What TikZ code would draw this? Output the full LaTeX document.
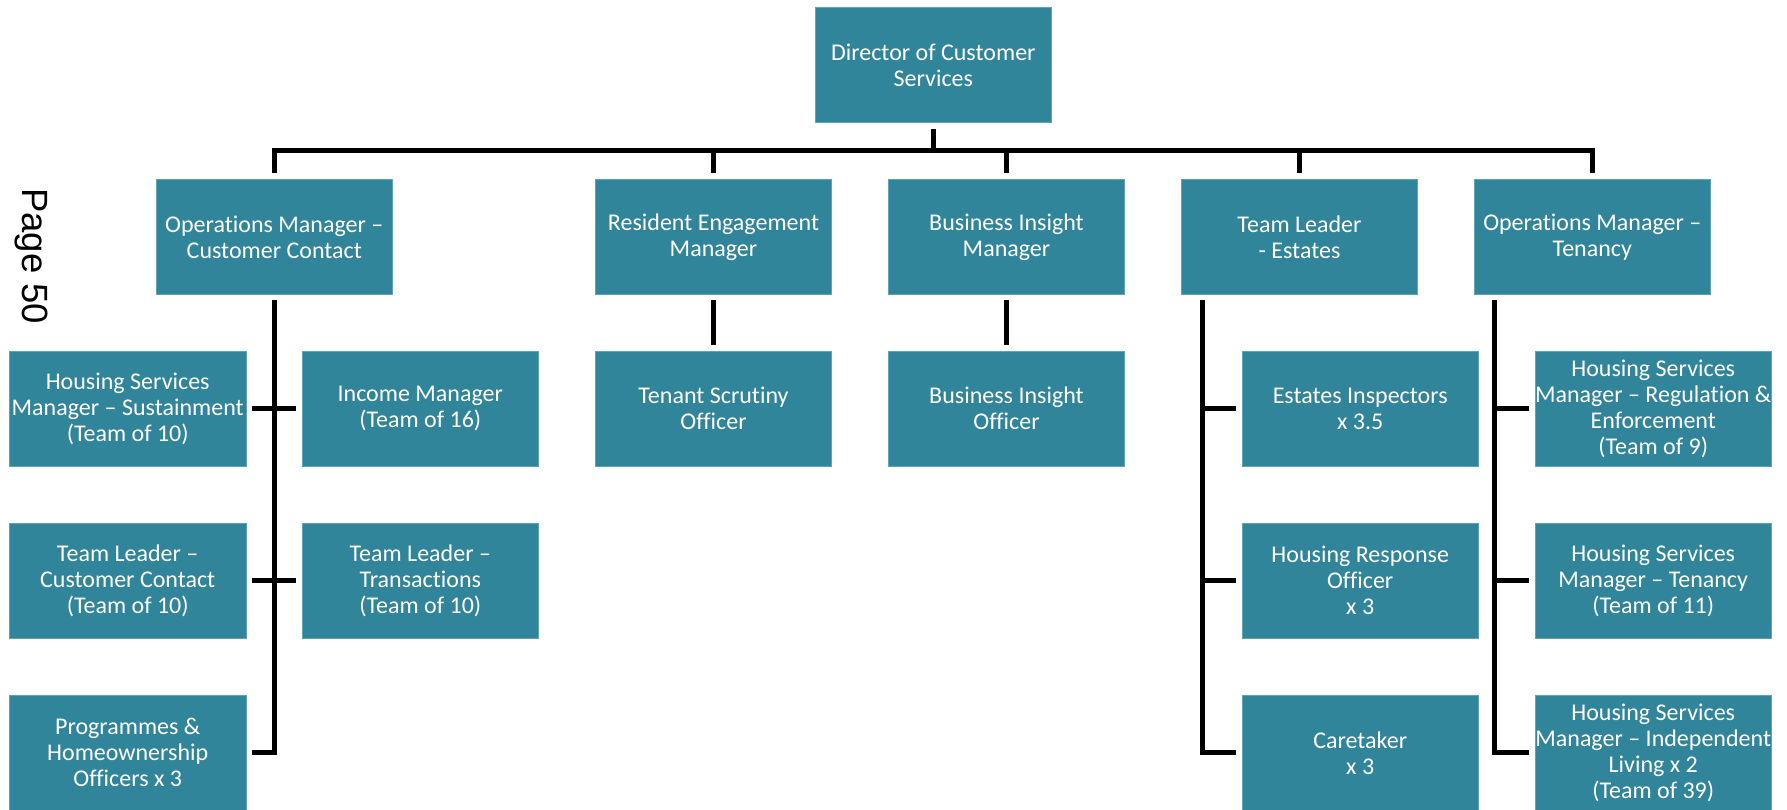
\documentclass[tikz,border=0pt]{standalone}
\usepackage{fontspec}
\setmainfont{Carlito}[Ligatures=NoCommon]
\newfontfamily\pagefont{Liberation Sans}
\definecolor{boxteal}{RGB}{49,133,155}
\definecolor{boxedge}{RGB}{95,163,183}
\begin{document}
\begin{tikzpicture}[x=1pt,y=-1pt,
  role/.style={rectangle, fill=boxteal, draw=boxedge, line width=0.8pt,
    minimum width=236.5pt, minimum height=115.5pt, inner sep=0pt,
    align=center, text=white, font=\fontsize{24}{26}\selectfont},
  conn/.style={line width=5pt, draw=black}]
\useasboundingbox (0,0) rectangle (1787,809);

% page number in the margin
\node[font=\pagefont\fontsize{36.5}{40}\selectfont, rotate=-90, anchor=base west,
  inner sep=0pt] (pagenum) at (23,188) {Page 50};

% top of the structure
\node[role] (dir) at (933.3,65) {Director of Customer\\Services};

% second tier
\node[role] (opscc) at (274.3,236.9) {Operations Manager –\\Customer Contact};
\node[role] (rem)   at (713.5,236.9) {Resident Engagement\\Manager};
\node[role] (bim)   at (1006.5,236.9) {Business Insight\\Manager};
\node[role] (tle)   at (1299.5,236.9) {Team Leader\\- Estates};
\node[role] (opst)  at (1592.3,236.9) {Operations Manager –\\Tenancy};

% customer contact teams
\node[role] (hsmsus) at (127.7,408.7) {Housing Services\\Manager – Sustainment\\(Team of 10)};
\node[role] (income) at (420.3,408.7) {Income Manager\\(Team of 16)};
\node[role] (tlcc)   at (127.7,580.7) {Team Leader –\\Customer Contact\\(Team of 10)};
\node[role] (tltr)   at (420.3,580.7) {Team Leader –\\Transactions\\(Team of 10)};
\node[role] (prog)   at (127.7,752.8) {Programmes \&\\Homeownership\\Officers x 3};

% single reports
\node[role] (tso) at (713.5,408.7) {Tenant Scrutiny\\Officer};
\node[role] (bio) at (1006.5,408.7) {Business Insight\\Officer};

% estates teams
\node[role] (ei)   at (1360.2,408.7) {Estates Inspectors\\x 3.5};
\node[role] (hro)  at (1360.2,580.7) {Housing Response\\Officer\\x 3};
\node[role] (care) at (1360.2,752.8) {Caretaker\\x 3};

% tenancy teams
\node[role] (hsmreg) at (1653.2,408.7) {Housing Services\\Manager – Regulation \&\\Enforcement\\(Team of 9)};
\node[role] (hsmten) at (1653.2,580.7) {Housing Services\\Manager – Tenancy\\(Team of 11)};
\node[role] (hsmil)  at (1653.2,752.8) {Housing Services\\Manager – Independent\\Living x 2\\(Team of 39)};

% main bus under the director
\coordinate (bus) at (0,150.7);
\draw[conn] ([yshift=-5.6pt]dir.south) -- (dir.south |- bus);
\draw[conn] ([yshift=6pt]opscc.north) -- (opscc.north |- bus)
  -- (opst.north |- bus) -- ([yshift=6pt]opst.north);
\foreach \n in {rem,bim,tle}
  \draw[conn] ([yshift=6pt]\n.north) -- (\n.north |- bus);

% customer contact trunk
\draw[conn] ([yshift=-5.3pt]opscc.south) |- ([xshift=5.3pt]prog.east);
\draw[conn] ([xshift=5.3pt]hsmsus.east) -- ([xshift=-5.3pt]income.west);
\draw[conn] ([xshift=5.3pt]tlcc.east) -- ([xshift=-5.3pt]tltr.west);

% direct reports
\draw[conn] ([yshift=-5.3pt]rem.south) -- ([yshift=5.7pt]tso.north);
\draw[conn] ([yshift=-5.3pt]bim.south) -- ([yshift=5.7pt]bio.north);

% estates trunk
\coordinate (etop) at ([xshift=21.4pt,yshift=-5.3pt]tle.south west);
\draw[conn] (etop) |- ([xshift=-5.3pt]care.west);
\draw[conn] (etop |- ei.west) -- ([xshift=-5.3pt]ei.west);
\draw[conn] (etop |- hro.west) -- ([xshift=-5.3pt]hro.west);

% tenancy trunk
\coordinate (ttop) at ([xshift=21.3pt,yshift=-5.3pt]opst.south west);
\draw[conn] (ttop) |- ([xshift=-5.3pt]hsmil.west);
\draw[conn] (ttop |- hsmreg.west) -- ([xshift=-5.3pt]hsmreg.west);
\draw[conn] (ttop |- hsmten.west) -- ([xshift=-5.3pt]hsmten.west);
\end{tikzpicture}
\end{document}
